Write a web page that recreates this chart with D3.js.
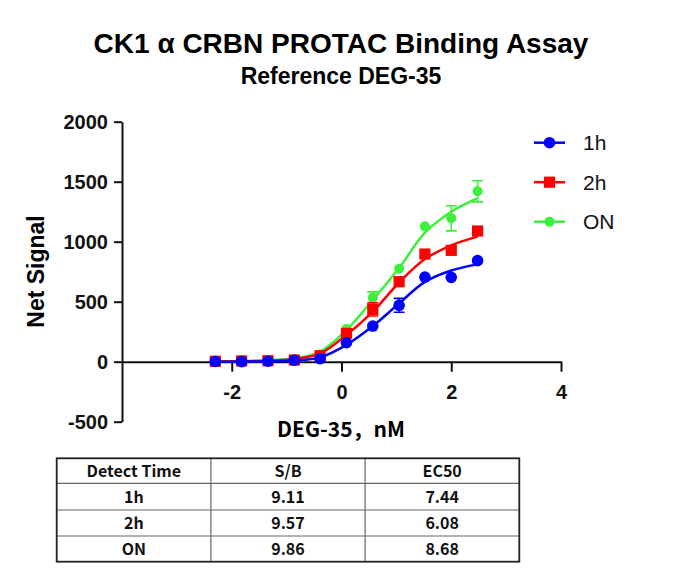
<!DOCTYPE html>
<html>
<head>
<meta charset="utf-8">
<script src="https://cdn.jsdelivr.net/npm/d3@7"></script>
<style>
  body { margin: 0; background: #fff; }
  svg { display: block; }
</style>
</head>
<body>
<svg id="chart" width="684" height="581"></svg>
<script>
// log10 of DEG-35 concentration (nM), 3-fold dilution from 300 nM
const logConc = [-2.30, -1.82, -1.34, -0.86, -0.39, 0.09, 0.57, 1.05, 1.52, 2.00, 2.48];

const mean1h = [2, 1, 4, 12, 26, 158, 297, 470, 705, 703, 842];
const sd1h   = [5, 5, 5, 5, 5, 10, 15, 58, 30, 10, 10];
const mean2h = [3, 6, 8, 14, 50, 236, 436, 667, 897, 928, 1089];
const sd2h   = [5, 5, 5, 5, 5, 10, 55, 20, 15, 15, 15];
const meanON = [10, 12, 10, 22, 60, 272, 532, 775, 1128, 1195, 1420];
const sdON   = [5, 5, 5, 5, 10, 15, 50, 20, 15, 105, 88];

// fitted curves at the same concentrations
const fit1h = [0, 1, 3, 9, 36, 140, 297, 486, 665, 760, 811];
const fit2h = [2, 4, 8, 22, 69, 222, 417, 660, 855, 970, 1042];
const fitON = [3, 6, 12, 28, 83, 264, 514, 780, 1075, 1250, 1364];

const seriesNames = ["1h", "2h", "ON"];
const seriesColors = ["#0000ff", "#ff0000", "#3bef3b"];
const xTicks = [-2, 0, 2, 4];
const yTicks = [-500, 0, 500, 1000, 1500, 2000];

const tableHeader = ["Detect Time", "S/B", "EC50"];
const detectTimes = ["1h", "2h", "ON"];
const sbValues = ["9.11", "9.57", "9.86"];
const ec50Values = ["7.44", "6.08", "8.68"];

const svg = d3.select("#chart");
const latin = "'Liberation Sans', Arial, sans-serif";
const cjk = "'Noto Sans CJK SC', 'Noto Sans', sans-serif";

const x = d3.scaleLinear().domain([-4, 4]).range([122, 561]);
const y = d3.scaleLinear().domain([-500, 2000]).range([421.7, 121.7]);

// titles
svg.append("text")
    .attr("x", 341).attr("y", 53)
    .attr("text-anchor", "middle")
    .style("font-family", latin).style("font-weight", "bold").style("font-size", "28px")
    .text("CK1 α CRBN PROTAC Binding Assay");
svg.append("text")
    .attr("x", 341).attr("y", 84)
    .attr("text-anchor", "middle")
    .style("font-family", latin).style("font-weight", "bold").style("font-size", "23px")
    .text("Reference DEG-35");

// axes (plain hyphen for negatives, as in the original)
const yAxis = svg.append("g")
    .attr("transform", `translate(${x(-4)},0)`)
    .call(d3.axisLeft(y).tickValues(yTicks).tickFormat(d => String(d))
        .tickSize(8).tickSizeOuter(0).tickPadding(6));
const xAxis = svg.append("g")
    .attr("transform", `translate(0,${y(0)})`)
    .call(d3.axisBottom(x).tickValues(xTicks).tickFormat(d => String(d))
        .tickSize(10).tickSizeOuter(0).tickPadding(13));

[yAxis, xAxis].forEach(g => {
    g.select(".domain").attr("stroke", "#111").attr("stroke-width", 2);
    g.selectAll(".tick line").attr("stroke", "#111").attr("stroke-width", 2);
    g.selectAll(".tick text")
        .attr("fill", "#111")
        .style("font-family", latin).style("font-weight", "bold").style("font-size", "20px");
});

svg.append("text")
    .attr("transform", "translate(43.5,271.5) rotate(-90)")
    .attr("text-anchor", "middle")
    .style("font-family", latin).style("font-weight", "bold").style("font-size", "23px")
    .text("Net Signal");

svg.append("text")
    .attr("x", 341).attr("y", 436.5)
    .attr("text-anchor", "middle")
    .style("font-family", cjk).style("font-weight", "bold").style("font-size", "21px")
    .text("DEG-35，nM");

// data series, drawn ON first so 1h sits on top
const series = [
    { name: seriesNames[0], color: seriesColors[0], mean: mean1h, sd: sd1h, fit: fit1h, shape: "circle", size: 5.8 },
    { name: seriesNames[1], color: seriesColors[1], mean: mean2h, sd: sd2h, fit: fit2h, shape: "square", size: 5.6 },
    { name: seriesNames[2], color: seriesColors[2], mean: meanON, sd: sdON, fit: fitON, shape: "circle", size: 5 }
];

const line = d3.line()
    .x(d => x(d[0]))
    .y(d => y(d[1]))
    .curve(d3.curveCatmullRom.alpha(0.5));

function drawMarker(g, s, cx, cy) {
    if (s.shape === "square") {
        g.append("rect")
            .attr("x", cx - s.size).attr("y", cy - s.size)
            .attr("width", s.size * 2).attr("height", s.size * 2)
            .attr("fill", s.color);
    } else {
        g.append("circle")
            .attr("cx", cx).attr("cy", cy).attr("r", s.size)
            .attr("fill", s.color);
    }
}

const plot = svg.append("g");
series.slice().reverse().forEach(s => {
    const g = plot.append("g");
    g.append("path")
        .datum(logConc.map((c, i) => [c, s.fit[i]]))
        .attr("d", line)
        .attr("fill", "none")
        .attr("stroke", s.color)
        .attr("stroke-width", 2.5);

    logConc.forEach((c, i) => {
        const cx = x(c), top = y(s.mean[i] + s.sd[i]), bot = y(s.mean[i] - s.sd[i]);
        if (bot - top > s.size * 2) {
            g.append("path")
                .attr("d", `M${cx},${top}V${bot}M${cx - 5.5},${top}H${cx + 5.5}M${cx - 5.5},${bot}H${cx + 5.5}`)
                .attr("fill", "none")
                .attr("stroke", s.color)
                .attr("stroke-width", 1.6);
        }
    });
    logConc.forEach((c, i) => drawMarker(g, s, x(c), y(s.mean[i])));
});

// legend
const legend = svg.append("g");
series.forEach((s, i) => {
    const ly = 142.7 + i * 39.5;
    legend.append("line")
        .attr("x1", 534).attr("x2", 565).attr("y1", ly).attr("y2", ly)
        .attr("stroke", s.color).attr("stroke-width", 2.5);
    drawMarker(legend, s, 549.5, ly);
    legend.append("text")
        .attr("x", 583).attr("y", ly + 7.5)
        .style("font-family", latin).style("font-size", "21px")
        .attr("fill", "#111")
        .text(s.name);
});

// summary table
const tLeft = 56.7, tTop = 458.3, colW = 154.2;
const rowY = [458.3, 483.3, 510, 536, 561.7];
const table = svg.append("g");
const rows = [tableHeader].concat(detectTimes.map((t, i) => [t, sbValues[i], ec50Values[i]]));

rows.forEach((row, r) => {
    row.forEach((cell, c) => {
        table.append("text")
            .attr("x", tLeft + colW * (c + 0.5))
            .attr("y", (rowY[r] + rowY[r + 1]) / 2 + 6)
            .attr("text-anchor", "middle")
            .style("font-family", cjk).style("font-weight", "bold").style("font-size", "16px")
            .attr("fill", "#111")
            .text(cell);
    });
});
rowY.slice(1, -1).forEach(ry => {
    table.append("line")
        .attr("x1", tLeft).attr("x2", tLeft + colW * 3)
        .attr("y1", ry).attr("y2", ry)
        .attr("stroke", "#666").attr("stroke-width", 1.2);
});
[1, 2].forEach(c => {
    table.append("line")
        .attr("x1", tLeft + colW * c).attr("x2", tLeft + colW * c)
        .attr("y1", rowY[0]).attr("y2", rowY[rowY.length - 1])
        .attr("stroke", "#666").attr("stroke-width", 1.2);
});
table.append("rect")
    .attr("x", tLeft).attr("y", tTop)
    .attr("width", colW * 3).attr("height", rowY[rowY.length - 1] - tTop)
    .attr("fill", "none").attr("stroke", "#222").attr("stroke-width", 1.8);
</script>
</body>
</html>
